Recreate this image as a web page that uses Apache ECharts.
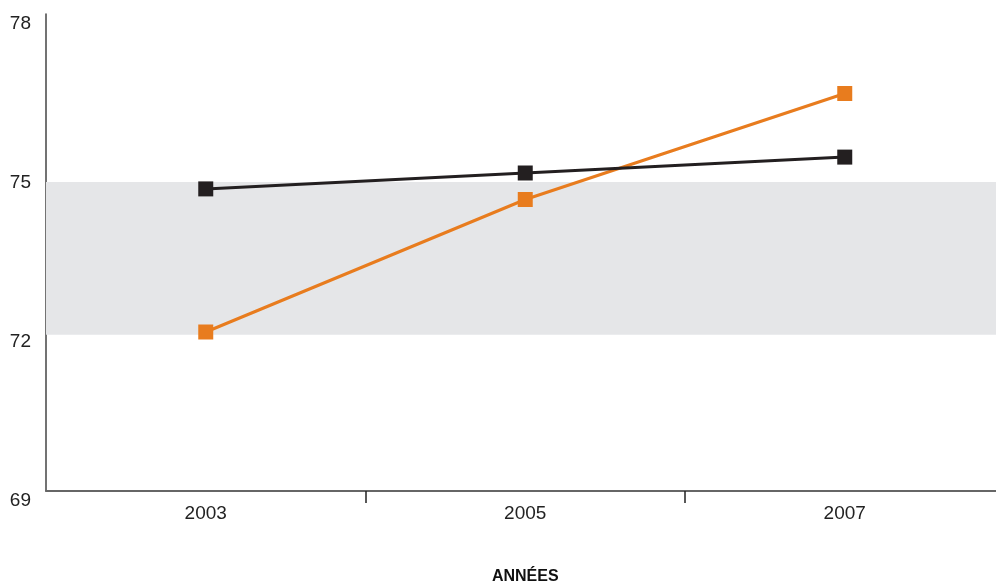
<!DOCTYPE html>
<html><head><meta charset="utf-8">
<script src="https://cdn.jsdelivr.net/npm/echarts@6/dist/echarts.min.js"></script>
<style>html,body{margin:0;padding:0;background:#fff}#c{width:996px;height:586px}</style>
</head><body><div id="c"></div>
<script>
const categories = ['2003', '2005', '2007'];
const seriesBlack = [74.7, 75.0, 75.3];
const seriesOrange = [72.0, 74.5, 76.5];
const bandLow = 71.95;
const bandHigh = 74.83;
const yTicks = [69, 72, 75, 78];
const xAxisTitle = 'ANNÉES';

const chart = echarts.init(document.getElementById('c'));
chart.setOption({
  animation: false,
  textStyle: {fontFamily: 'Liberation Sans, Arial, sans-serif'},
  grid: {left: 46, right: -8.5, top: 14, bottom: 95, containLabel: false, outerBoundsMode: 'none'},
  xAxis: {
    type: 'category', data: categories, boundaryGap: true,
    name: xAxisTitle, nameLocation: 'middle', nameGap: 78,
    nameTextStyle: {fontSize: 16, fontWeight: 'bold', color: '#111'},
    axisLine: {lineStyle: {color: '#666', width: 2}},
    axisTick: {show: true, length: 12, lineStyle: {color: '#222', width: 1.5}, interval: function (i) { return i > 0; }},
    axisLabel: {fontSize: 19, color: '#222', margin: 13}
  },
  yAxis: {
    type: 'value', min: yTicks[0], max: yTicks[yTicks.length - 1], interval: 3,
    splitLine: {show: false},
    axisLine: {show: true, lineStyle: {color: '#444', width: 1.5}},
    axisTick: {show: false},
    axisLabel: {fontSize: 19, color: '#222', margin: 15, verticalAlign: 'top'}
  },
  series: [
    {
      type: 'line', data: seriesOrange, symbol: 'rect', symbolSize: 15,
      lineStyle: {color: '#e87c1e', width: 3}, itemStyle: {color: '#e87c1e'}, z: 3,
      markArea: {silent: true, itemStyle: {color: '#e5e6e8'}, data: [[{yAxis: bandLow}, {yAxis: bandHigh}]]}
    },
    {
      type: 'line', data: seriesBlack, symbol: 'rect', symbolSize: 15,
      lineStyle: {color: '#231f20', width: 3}, itemStyle: {color: '#231f20'}, z: 4
    }
  ]
});
</script></body></html>
